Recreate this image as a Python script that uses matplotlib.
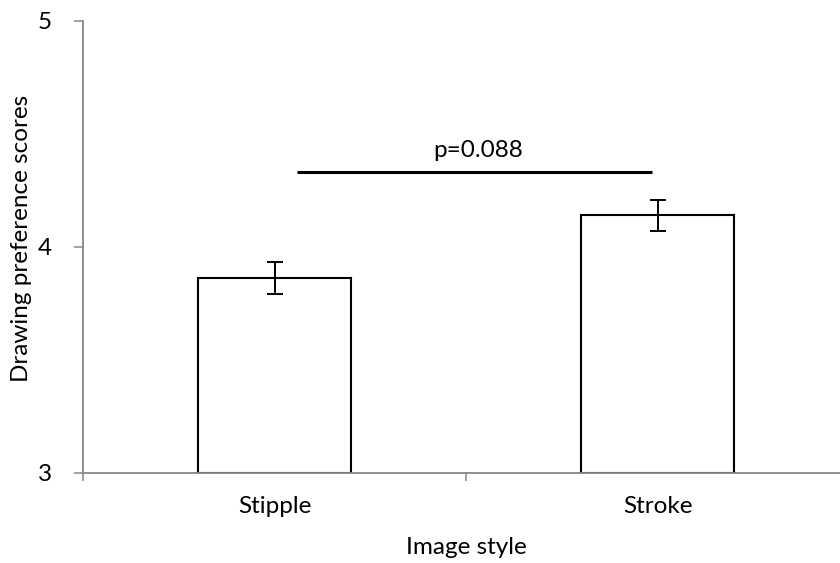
import numpy as np
import matplotlib
matplotlib.use("Agg")
import matplotlib.pyplot as plt

plt.rcParams['font.family'] = ['Lato', 'DejaVu Sans']

# mean drawing preference per image style, with error bars
styles = ["Stipple", "Stroke"]
scores = [3.864, 4.139]
errors = [0.071, 0.070]
p_text = "p=0.088"
p_span = [0.06, 0.985]
p_level = 4.333

fs = 17.5

fig = plt.figure(figsize=(8.4, 5.63), dpi=100)
ax = fig.add_axes([83 / 840, 0.1604, 766 / 840, 0.8023])

x = np.arange(len(styles))
ax.bar(x, [s - 3 for s in scores], bottom=3, width=0.402, color="white",
       edgecolor="black", linewidth=1.5, zorder=2)
ax.errorbar(x, scores, yerr=errors, fmt="none", ecolor="black",
            elinewidth=1.4, capsize=5.5, capthick=1.4, zorder=3)

# significance bracket
ax.plot(p_span, [p_level, p_level], color="black", lw=2.2, solid_capstyle="butt")
ax.text(np.mean(p_span) + 0.01, p_level + 0.045, p_text, ha="center",
        va="bottom", fontsize=fs)

ax.set_xlim(-0.5, 1.5)
ax.set_ylim(3, 5)
ax.set_yticks([3, 4, 5])
ax.set_xticks([-0.5, 0.5, 1.5])
ax.set_xticklabels([])
ax.set_xticks(x, minor=True)
ax.set_xticklabels(styles, minor=True)
ax.tick_params(axis="x", which="minor", length=0, pad=17, labelsize=fs)
ax.tick_params(axis="x", which="major", length=6, width=1.1, color="#868686")
ax.tick_params(axis="y", length=6.5, width=1.1, color="#868686", labelsize=fs, pad=16)

for side in ["top", "right"]:
    ax.spines[side].set_visible(False)
for side in ["left", "bottom"]:
    ax.spines[side].set_color("#868686")
    ax.spines[side].set_linewidth(1.3)
    ax.spines[side].set_zorder(4)

ax.set_xlabel("Image style", fontsize=fs, labelpad=14)
ax.set_ylabel("Drawing preference scores", fontsize=17.5, va="center")
ax.yaxis.set_label_coords(-0.08, 0.518)

fig.savefig("out.png", dpi=100)
